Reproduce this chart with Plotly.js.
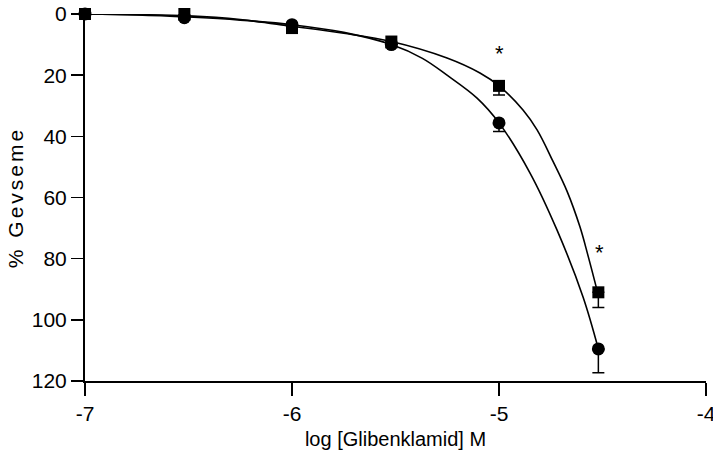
<!DOCTYPE html>
<html>
<head>
<meta charset="utf-8">
<script src="https://cdn.plot.ly/plotly-3.0.1.min.js"></script>
<style>
html,body{margin:0;padding:0;background:#fff;}
#chart{width:713px;height:460px;}
#chart .ytitle{letter-spacing:3px;}
</style>
</head>
<body>
<div id="chart"></div>
<script>
// Concentrations (log M)
const logConc = [-7, -6.52, -6, -5.52, -5, -4.52];
// Circle series (% relaxation) and SEM
const circleY = [0, 1.2, 3.5, 10, 35.6, 109.5];
const circleErr = [0.5, 0.8, 1, 1, 2.8, 7.8];
// Square series (% relaxation) and SEM
const squareY = [0, 0, 4.6, 9, 23.5, 91];
const squareErr = [0.5, 0.5, 1, 1, 3, 5];
// Fitted curves
const circleCurveX = [-7, -6.75, -6.5, -6.25, -6, -5.75, -5.52, -5.37, -5.251, -5.106, -5.0, -4.85, -4.72, -4.594, -4.52];
const circleCurveY = [0, 0.3, 1, 2, 3.5, 6, 10, 14.5, 20.0, 27.5, 35.6, 52, 70.6, 92.5, 109.5];
const squareCurveX = [-7, -6.75, -6.5, -6.25, -6, -5.75, -5.52, -5.251, -5.092, -5.0, -4.884, -4.816, -4.739, -4.671, -4.609, -4.570, -4.52];
const squareCurveY = [0, 0.2, 0.6, 1.8, 4, 6.3, 9, 14.4, 19.3, 23.5, 31.4, 37.9, 48.2, 58, 69.6, 79, 92];
// Significance marks
const starX = [-5, -4.515];
const starY = [12.8, 78];

const traces = [
  {x: circleCurveX, y: circleCurveY, mode: 'lines', line: {color: '#000', width: 1.6, shape: 'spline', smoothing: 1}, hoverinfo: 'skip', showlegend: false},
  {x: squareCurveX, y: squareCurveY, mode: 'lines', line: {color: '#000', width: 1.6, shape: 'spline', smoothing: 1}, hoverinfo: 'skip', showlegend: false},
  {x: logConc, y: circleY, mode: 'markers', name: 'circle',
   marker: {symbol: 'circle', size: 13, color: '#000'},
   error_y: {type: 'data', symmetric: false, array: circleErr, arrayminus: circleErr.map(()=>0), color: '#000', thickness: 1.5, width: 6},
   cliponaxis: false, showlegend: false},
  {x: logConc, y: squareY, mode: 'markers', name: 'square',
   marker: {symbol: 'square', size: 12, color: '#000'},
   error_y: {type: 'data', symmetric: false, array: squareErr, arrayminus: squareErr.map(()=>0), color: '#000', thickness: 1.5, width: 6},
   cliponaxis: false, showlegend: false}
];

const layout = {
  width: 713, height: 460,
  margin: {l: 85, r: 7, t: 14, b: 79},
  paper_bgcolor: '#fff', plot_bgcolor: '#fff',
  font: {family: '"Liberation Sans Narrow", "Liberation Sans", Arial, sans-serif', size: 21, color: '#000'},
  xaxis: {
    range: [-7, -4], tickvals: [-7, -6, -5, -4], ticktext: ['-7', '-6', '-5', '-4'],
    showgrid: false, zeroline: false, showline: true, linecolor: '#000', linewidth: 2,
    ticks: 'outside', ticklen: 13, tickwidth: 1.5, tickcolor: '#000',
    ticklabeloverflow: 'allow', tickfont: {size: 21},
    title: {text: 'log [Glibenklamid] M', font: {size: 20}, standoff: 8}
  },
  yaxis: {
    range: [120, 0], tickvals: [0, 20, 40, 60, 80, 100, 120],
    showgrid: false, zeroline: false, showline: true, linecolor: '#000', linewidth: 2,
    ticks: 'outside', ticklen: 12, tickwidth: 1.5, tickcolor: '#000',
    ticklabeloverflow: 'allow', tickfont: {size: 21},
    title: {text: '% Gevseme', font: {size: 21}, standoff: 2}
  },
  annotations: starX.map((x, i) => ({x: x, y: starY[i], text: '*', showarrow: false, font: {family: 'Liberation Sans, Arial, sans-serif', size: 22, color: '#000'}}))
};

Plotly.newPlot('chart', traces, layout, {displayModeBar: false, staticPlot: true});
</script>
</body>
</html>
